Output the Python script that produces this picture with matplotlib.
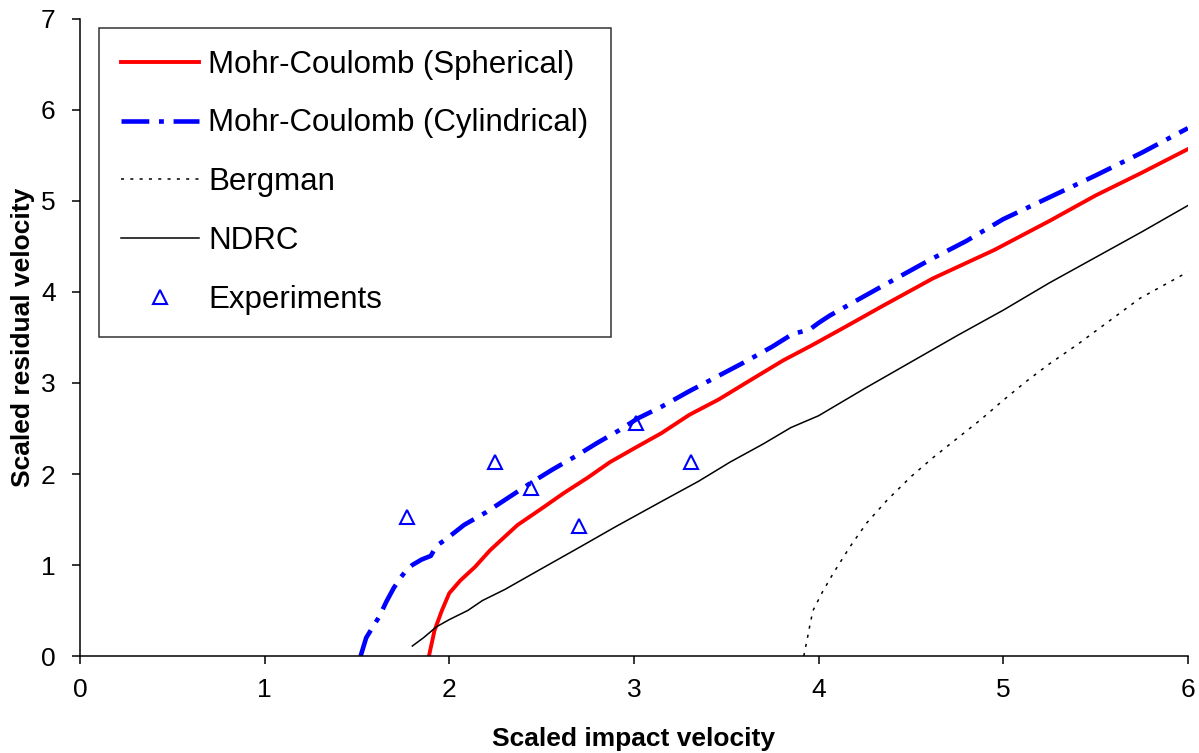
#!/usr/bin/env python3

import matplotlib
matplotlib.use('Agg')
from matplotlib import rcParams
rcParams['font.family'] = 'sans-serif'
rcParams['font.sans-serif'] = ['Liberation Sans', 'DejaVu Sans']
rcParams['lines.scale_dashes'] = False
import matplotlib.pyplot as plt

# Mohr-Coulomb, spherical cavity expansion
sph_x = [1.89, 1.92, 1.96, 2.00, 2.06, 2.14, 2.22, 2.30, 2.37, 2.50, 2.62,
         2.75, 2.87, 3.00, 3.15, 3.30, 3.46, 3.63, 3.81, 3.96, 4.13, 4.35,
         4.62, 4.95, 5.25, 5.50, 5.75, 6.00]
sph_y = [0.00, 0.28, 0.50, 0.69, 0.83, 0.98, 1.16, 1.31, 1.44, 1.62, 1.79,
         1.96, 2.13, 2.28, 2.45, 2.65, 2.82, 3.03, 3.25, 3.41, 3.60, 3.85,
         4.15, 4.46, 4.78, 5.06, 5.31, 5.57]

# Mohr-Coulomb, cylindrical cavity expansion
cyl_x = [1.52, 1.55, 1.58, 1.62, 1.66, 1.70, 1.74, 1.77, 1.80, 1.85, 1.90,
         1.93, 1.98, 2.08, 2.20, 2.32, 2.44, 2.56, 2.68, 2.80, 2.92, 3.02,
         3.15, 3.30, 3.45, 3.60, 3.75, 3.86, 3.92, 3.96, 4.00, 4.06, 4.20,
         4.35, 4.60, 4.80, 5.00, 5.25, 5.50, 5.75, 6.00]
cyl_y = [0.00, 0.20, 0.30, 0.43, 0.60, 0.75, 0.87, 0.95, 1.00, 1.06, 1.10,
         1.21, 1.28, 1.44, 1.58, 1.74, 1.90, 2.05, 2.19, 2.34, 2.48, 2.61,
         2.74, 2.91, 3.07, 3.23, 3.40, 3.54, 3.57, 3.60, 3.66, 3.74, 3.90,
         4.07, 4.35, 4.56, 4.80, 5.04, 5.28, 5.53, 5.80]

bergman_x = [3.92, 3.94, 3.955, 3.97, 4.02, 4.08, 4.17, 4.26, 4.37, 4.50,
             4.62, 4.75, 4.88, 5.00, 5.12, 5.25, 5.40, 5.54, 5.74, 6.00]
bergman_y = [0.00, 0.20, 0.36, 0.50, 0.70, 0.91, 1.20, 1.46, 1.71, 1.97,
             2.18, 2.39, 2.60, 2.81, 3.01, 3.21, 3.42, 3.63, 3.93, 4.22]

ndrc_x = [1.80, 1.86, 1.93, 2.00, 2.10, 2.18, 2.30, 2.50, 2.71, 2.90, 3.16,
          3.35, 3.52, 3.70, 3.85, 4.00, 4.25, 4.50, 4.75, 5.00, 5.25, 5.50,
          5.75, 6.00]
ndrc_y = [0.11, 0.20, 0.32, 0.40, 0.50, 0.61, 0.73, 0.96, 1.20, 1.42, 1.71,
          1.92, 2.13, 2.33, 2.51, 2.64, 2.94, 3.23, 3.52, 3.80, 4.10, 4.38,
          4.66, 4.95]

exp_x = [1.77, 2.25, 2.44, 2.70, 3.01, 3.31]
exp_y = [1.53, 2.13, 1.85, 1.43, 2.56, 2.13]

fig = plt.figure(figsize=(11.99, 7.53), dpi=100)
ax = fig.add_axes([0.0667, 0.1288, 0.924, 0.846])

ax.plot(sph_x, sph_y, color='#ff0000', lw=2.8,
        label='Mohr-Coulomb (Spherical)')
ax.plot(cyl_x, cyl_y, color='#0000ff', lw=3.3,
        linestyle=(0, (20, 7, 3.5, 7)),
        label='Mohr-Coulomb (Cylindrical)')
ax.plot(bergman_x, bergman_y, color='black', lw=1.1,
        linestyle=(0, (2.2, 4.5)), label='Bergman')
ax.plot(ndrc_x, ndrc_y, color='black', lw=1.1, label='NDRC')
ax.plot(exp_x, exp_y, linestyle='none', marker='^', markersize=10,
        markerfacecolor='none', markeredgecolor='#0000ff',
        markeredgewidth=1.5, label='Experiments')

ax.set_xlim(0, 6)
ax.set_ylim(0, 7)
ax.set_xticks(range(0, 7))
ax.set_yticks(range(0, 8))

for side in ['top', 'right']:
    ax.spines[side].set_visible(False)
for side in ['left', 'bottom']:
    ax.spines[side].set_linewidth(1.1)
ax.tick_params(direction='out', length=5.5, width=1.1, labelsize=19)
ax.tick_params(axis='x', pad=10)
ax.tick_params(axis='y', pad=12)

ax.set_xlabel('Scaled impact velocity', fontsize=19, fontweight='bold',
              labelpad=18)
ax.set_ylabel('Scaled residual velocity', fontsize=19, fontweight='bold',
              labelpad=4)

leg = ax.legend(loc='upper left', bbox_to_anchor=(0.0826, 0.963),
                bbox_transform=fig.transFigure, fontsize=22.5, frameon=True,
                fancybox=False, edgecolor='black', handlelength=2.5,
                handletextpad=0.3, labelspacing=0.92, borderpad=0.7,
                borderaxespad=0)
leg.get_frame().set_linewidth(1.1)

fig.savefig('out.png', dpi=100)
